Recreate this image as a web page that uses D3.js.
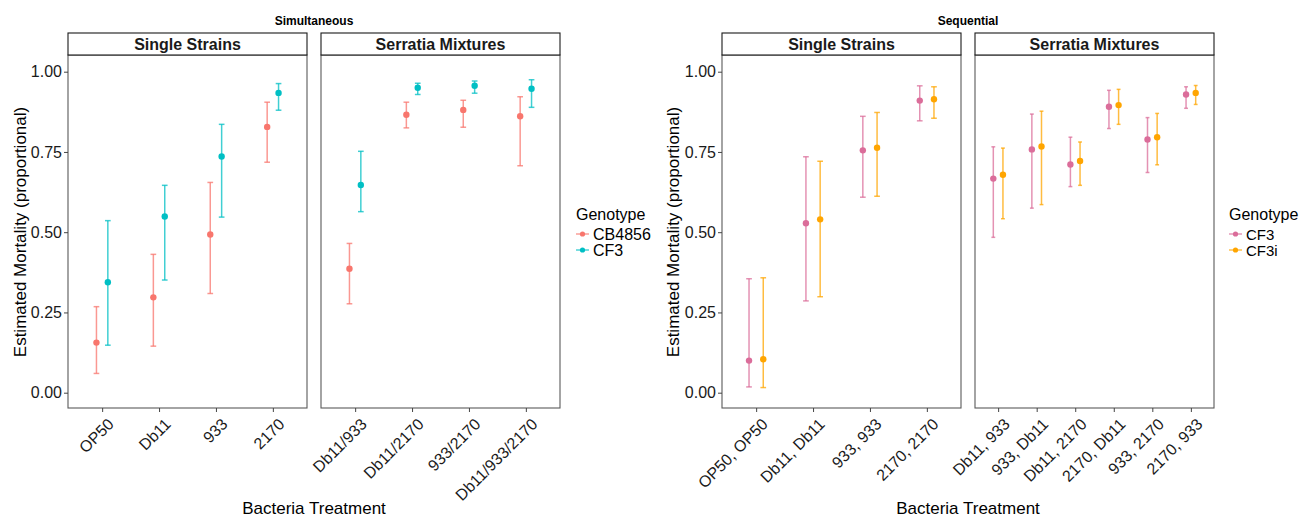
<!DOCTYPE html>
<html>
<head>
<meta charset="utf-8">
<script src="https://cdn.jsdelivr.net/npm/d3@7"></script>
<style>
  html, body { margin: 0; padding: 0; background: #fff; }
  svg { display: block; font-family: "Liberation Sans", Arial, Helvetica, sans-serif; }
</style>
</head>
<body>
<svg id="chart" width="1308" height="519"></svg>
<script>
// ---------------- DATA ----------------
const yTicks = [0, 0.25, 0.5, 0.75, 1.0];
const yTickLabels = ["0.00", "0.25", "0.50", "0.75", "1.00"];
const facetNames = ["Single Strains", "Serratia Mixtures"];

// Simultaneous
const simSingleCategories = ["OP50", "Db11", "933", "2170"];
const simMixCategories = ["Db11/933", "Db11/2170", "933/2170", "Db11/933/2170"];
const simGenotypes = ["CB4856", "CF3"];
// values ordered: single strains then mixtures
const simCB4856Mean  = [0.156, 0.297, 0.493, 0.828, 0.386, 0.866, 0.881, 0.861];
const simCB4856Lower = [0.060, 0.145, 0.309, 0.718, 0.277, 0.825, 0.827, 0.707];
const simCB4856Upper = [0.268, 0.431, 0.655, 0.905, 0.465, 0.905, 0.911, 0.922];
const simCF3Mean     = [0.344, 0.549, 0.736, 0.934, 0.647, 0.950, 0.956, 0.947];
const simCF3Lower    = [0.148, 0.351, 0.547, 0.880, 0.564, 0.929, 0.933, 0.889];
const simCF3Upper    = [0.536, 0.646, 0.836, 0.963, 0.752, 0.964, 0.971, 0.975];

// Sequential
const seqSingleCategories = ["OP50, OP50", "Db11, Db11", "933, 933", "2170, 2170"];
const seqMixCategories = ["Db11, 933", "933, Db11", "Db11, 2170", "2170, Db11", "933, 2170", "2170, 933"];
const seqGenotypes = ["CF3", "CF3i"];
const seqCF3Mean   = [0.100, 0.528, 0.755, 0.910, 0.667, 0.758, 0.711, 0.891, 0.789, 0.929];
const seqCF3Lower  = [0.018, 0.286, 0.609, 0.847, 0.484, 0.575, 0.642, 0.823, 0.686, 0.886];
const seqCF3Upper  = [0.355, 0.735, 0.861, 0.956, 0.766, 0.868, 0.796, 0.942, 0.857, 0.953];
const seqCF3iMean  = [0.104, 0.540, 0.763, 0.914, 0.679, 0.767, 0.722, 0.896, 0.796, 0.934];
const seqCF3iLower = [0.016, 0.299, 0.612, 0.855, 0.542, 0.586, 0.646, 0.836, 0.710, 0.898];
const seqCF3iUpper = [0.358, 0.721, 0.873, 0.953, 0.762, 0.877, 0.781, 0.945, 0.870, 0.957];

// ---------------- RENDER ----------------
const svg = d3.select("#chart");
const FONT = "'Liberation Sans', Arial, Helvetica, sans-serif";

function buildRows(singleCats, mixCats, genos, series) {
  const cats = singleCats.concat(mixCats);
  const rows = [];
  genos.forEach((g, gi) => {
    cats.forEach((c, i) => {
      rows.push({
        facet: i < singleCats.length ? 0 : 1,
        cat: c, geno: g, gi: gi,
        mean: series[gi][0][i], lo: series[gi][1][i], hi: series[gi][2][i]
      });
    });
  });
  return rows;
}

function drawPlot(opts) {
  const g = svg.append("g");
  const y = d3.scaleLinear().domain([0, 1]).range([392.7, 71.7]);
  const stripTop = 33, panelTop = 55, panelBottom = 408;
  const rows = buildRows(opts.single, opts.mix, opts.genos, opts.series);
  const color = d3.scaleOrdinal().domain(opts.genos).range(opts.colors);

  // title
  g.append("text")
    .attr("x", (opts.panels[0][0] + opts.panels[1][1]) / 2)
    .attr("y", 25)
    .attr("text-anchor", "middle")
    .style("font-size", "12px").style("font-weight", "bold")
    .attr("fill", "#000")
    .text(opts.title);

  [opts.single, opts.mix].forEach((cats, fi) => {
    const [x0, x1] = opts.panels[fi];
    const x = d3.scalePoint().domain(cats).range([x0, x1]).padding(0.6);
    const step = x.step();
    const pg = g.append("g");

    // panel background + border
    pg.append("rect")
      .attr("x", x0).attr("y", panelTop)
      .attr("width", x1 - x0).attr("height", panelBottom - panelTop)
      .attr("fill", "#fff").attr("stroke", "#5a5a5a").attr("stroke-width", 1.1);

    // strip
    pg.append("rect")
      .attr("x", x0).attr("y", stripTop)
      .attr("width", x1 - x0).attr("height", panelTop - stripTop)
      .attr("fill", "#fff").attr("stroke", "#1a1a1a").attr("stroke-width", 1.1);
    pg.append("text")
      .attr("x", (x0 + x1) / 2).attr("y", 49.5)
      .attr("text-anchor", "middle")
      .style("font-size", "16px").style("font-weight", "bold")
      .attr("fill", "#1a1a1a")
      .text(facetNames[fi]);

    // x axis
    const xAxis = d3.axisBottom(x).tickSize(4).tickPadding(0);
    const xa = pg.append("g").attr("transform", `translate(0,${panelBottom})`).call(xAxis);
    xa.select(".domain").remove();
    xa.selectAll(".tick line").attr("stroke", "#444").attr("stroke-width", 1);
    xa.selectAll(".tick text")
      .attr("fill", "#1a1a1a")
      .style("font-size", "16px").style("font-family", FONT)
      .attr("text-anchor", "end")
      .attr("dy", "0.72em")
      .attr("y", 0)
      .attr("transform", "translate(4,9) rotate(-45)");

    // y axis on first panel
    if (fi === 0) {
      const yAxis = d3.axisLeft(y).tickValues(yTicks)
        .tickFormat((d, i) => yTickLabels[i]).tickSize(4).tickPadding(2);
      const ya = pg.append("g").attr("transform", `translate(${x0},0)`).call(yAxis);
      ya.select(".domain").remove();
      ya.selectAll(".tick line").attr("stroke", "#444");
      ya.selectAll(".tick text").attr("fill", "#1a1a1a")
        .style("font-size", "16px").style("font-family", FONT);
    }

    // errorbars + points
    const data = rows.filter(r => r.facet === fi);
    const off = d => x(d.cat) + (d.gi === 0 ? -1 : 1) * opts.dodge * step;
    const capHalf = 0.05 * step;
    const eb = pg.append("g").selectAll("g").data(data).join("g")
      .attr("stroke", d => color(d.geno)).attr("stroke-width", 1.5)
      .attr("stroke-opacity", 0.75);
    eb.append("line").attr("x1", off).attr("x2", off)
      .attr("y1", d => y(d.lo)).attr("y2", d => y(d.hi));
    eb.append("line").attr("x1", d => off(d) - capHalf).attr("x2", d => off(d) + capHalf)
      .attr("y1", d => y(d.lo)).attr("y2", d => y(d.lo));
    eb.append("line").attr("x1", d => off(d) - capHalf).attr("x2", d => off(d) + capHalf)
      .attr("y1", d => y(d.hi)).attr("y2", d => y(d.hi));
    pg.append("g").selectAll("circle").data(data).join("circle")
      .attr("cx", off).attr("cy", d => y(d.mean)).attr("r", 3.2)
      .attr("fill", d => color(d.geno));
  });

  // y axis title
  g.append("text")
    .attr("transform", `translate(${opts.yTitleX},${(72 + 392) / 2}) rotate(-90)`)
    .attr("text-anchor", "middle")
    .style("font-size", "17px").attr("fill", "#000")
    .text("Estimated Mortality (proportional)");

  // x axis title
  g.append("text")
    .attr("x", (opts.panels[0][0] + opts.panels[1][1]) / 2).attr("y", 514)
    .attr("text-anchor", "middle")
    .style("font-size", "17px").attr("fill", "#000")
    .text("Bacteria Treatment");

  // legend
  const lg = g.append("g").attr("transform", `translate(${opts.legendX},0)`);
  lg.append("text").attr("x", 0).attr("y", 220)
    .style("font-size", "16px").attr("fill", "#000").text("Genotype");
  opts.genos.forEach((gn, i) => {
    const yy = 234 + i * 16;
    lg.append("line").attr("x1", 0).attr("x2", 13).attr("y1", yy).attr("y2", yy)
      .attr("stroke", color(gn)).attr("stroke-width", 1.5).attr("stroke-opacity", 0.7);
    lg.append("circle").attr("cx", 6.5).attr("cy", yy).attr("r", 2.6).attr("fill", color(gn));
    lg.append("text").attr("x", 17).attr("y", yy + 5.5)
      .style("font-size", opts.legendFont).attr("fill", "#000").text(gn);
  });
}

drawPlot({
  title: "Simultaneous",
  single: simSingleCategories, mix: simMixCategories, genos: simGenotypes,
  series: [[simCB4856Mean, simCB4856Lower, simCB4856Upper], [simCF3Mean, simCF3Lower, simCF3Upper]],
  colors: ["#F8766D", "#00BFC4"],
  panels: [[68, 307], [321, 560]],
  dodge: 0.1,
  yTitleX: 26,
  legendX: 576,
  legendFont: "16px"
});

drawPlot({
  title: "Sequential",
  single: seqSingleCategories, mix: seqMixCategories, genos: seqGenotypes,
  series: [[seqCF3Mean, seqCF3Lower, seqCF3Upper], [seqCF3iMean, seqCF3iLower, seqCF3iUpper]],
  colors: ["#DB6D9A", "#FFA500"],
  panels: [[722, 961], [975, 1214]],
  dodge: 0.125,
  yTitleX: 679,
  legendX: 1229,
  legendFont: "15px"
});
</script>
</body>
</html>
